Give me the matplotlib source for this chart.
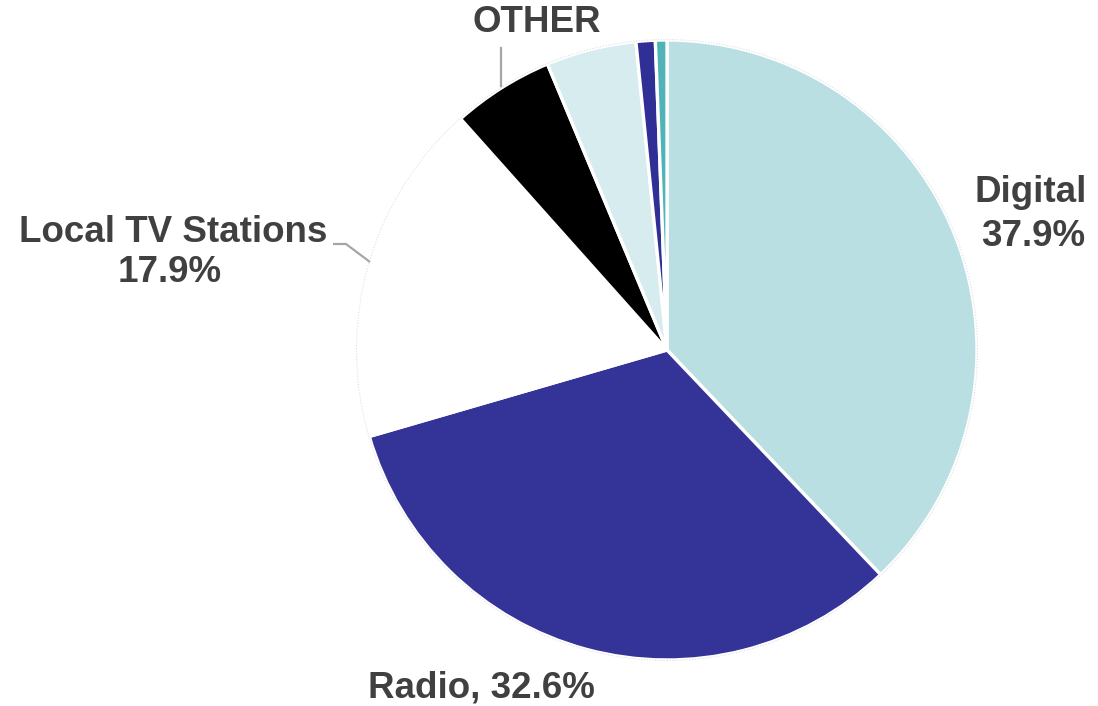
import matplotlib
matplotlib.use("Agg")
import matplotlib.pyplot as plt
from matplotlib.patches import Circle

# Share of spending by media channel (clockwise from 12 o'clock)
channels = ["Digital", "Radio", "Local TV Stations", "Print", "Outdoor", "Cable", "Other"]
shares = [37.9, 32.6, 17.9, 5.3, 4.7, 1.0, 0.6]
colors = ["#b9dfe3", "#343398", "#ffffff", "#000000", "#d6ecef", "#2f2f96", "#4fb3b8"]

W, H = 1098, 706
fig = plt.figure(figsize=(W / 100, H / 100), dpi=100)
ax = fig.add_axes([0, 0, 1, 1])

cx, cy, r = 667, H - 350, 310
wedges, _ = ax.pie(shares, colors=colors, startangle=90, counterclock=False,
                   center=(cx, cy), radius=r, frame=True,
                   wedgeprops=dict(edgecolor="white", linewidth=2.4))
# faint outline around the pie
ax.add_patch(Circle((cx, cy), r + 0.5, fill=False, edgecolor="#e0e0e0",
                    linewidth=0.8, linestyle=(0, (1, 1.5)), zorder=3))

ax.set_xlim(0, W)
ax.set_ylim(0, H)
ax.set_aspect("equal")
ax.axis("off")

txt = dict(fontfamily="Liberation Sans", fontweight="bold", fontsize=26.5,
           color="#404040", ha="center", va="center")

ax.text(1031, H - 192, f"{channels[0]}", **txt)
ax.text(1033, H - 237, f"{shares[0]:.1f}%", **txt)

ax.text(481, H - 688, f"{channels[1]}, {shares[1]:.1f}%", **txt)

ax.text(173, H - 232, channels[2], **txt)
ax.text(170, H - 273, f"{shares[2]:.1f}%", **txt)

ax.text(537, H - 22, "OTHER", **txt)

# leader lines
ax.plot([333, 346, 370], [H - 244, H - 244, H - 262], color="#a6a6a6", lw=1.6,
        solid_capstyle="butt", zorder=4)
ax.plot([501, 501], [H - 48, H - 86], color="#a6a6a6", lw=1.6, zorder=4)

fig.savefig("out.png", dpi=100, facecolor="white")
